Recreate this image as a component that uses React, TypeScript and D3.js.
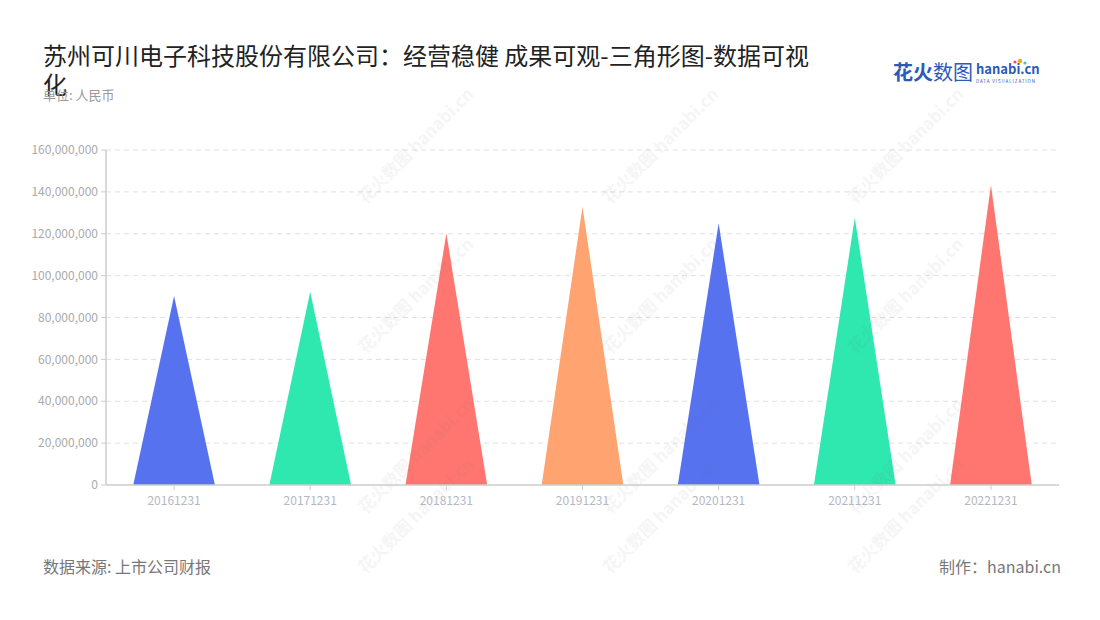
import React from "react";
import * as d3 from "d3";

const categories = ["20161231", "20171231", "20181231", "20191231", "20201231", "20211231", "20221231"];
const values = [90300000, 92300000, 120200000, 132900000, 125000000, 127700000, 143300000];
const colors = ["#5772ef", "#2ee8b0", "#ff7670", "#ffa370", "#5772ef", "#2ee8b0", "#ff7670"];
const yTicks = [0, 20000000, 40000000, 60000000, 80000000, 100000000, 120000000, 140000000, 160000000];
const titleLine1 = "苏州可川电子科技股份有限公司：经营稳健 成果可观-三角形图-数据可视";
const titleLine2 = "化";
const unitText = "单位: 人民币";
const sourceText = "数据来源: 上市公司财报";
const makerText = "制作：hanabi.cn";

const W = 1100, H = 620;
const left = 106, right = 1059, top = 150, bottom = 485;
const font = "'Noto Sans CJK SC', 'Noto Sans', sans-serif";

export default function App() {
  const x = d3.scaleBand<string>().domain(categories).range([left, right]).paddingInner(0).paddingOuter(0);
  const y = d3.scaleLinear().domain([0, 160000000]).range([bottom, top]);
  const fmt = d3.format(",");
  const bw = x.bandwidth() * 0.6;

  const wmPos: [number, number][] = [];
  for (const wx of [420, 665, 910]) {
    for (const wy of [150, 300, 460, 520]) wmPos.push([wx, wy]);
  }

  return (
    <svg width={W} height={H} style={{ position: "absolute", left: 0, top: 0, background: "#fff" }} fontFamily={font}>
      <rect width={W} height={H} fill="#fff" />
      {/* grid */}
      {yTicks.map((t) => (
        <g key={t}>
          {t > 0 && (
            <line x1={left} x2={right} y1={y(t)} y2={y(t)} stroke="#e0e0e0" strokeDasharray="5,4" />
          )}
          <line x1={left - 5} x2={left} y1={y(t)} y2={y(t)} stroke="#ccc" />
          <text x={left - 8} y={y(t)} dy="0.35em" textAnchor="end" fontSize={12} fill="#aaa">
            {fmt(t)}
          </text>
        </g>
      ))}
      {/* triangles */}
      {categories.map((c, i) => {
        const cx = (x(c) as number) + x.bandwidth() / 2;
        const p = d3.path();
        p.moveTo(cx - bw / 2, y(0));
        p.lineTo(cx, y(values[i]));
        p.lineTo(cx + bw / 2, y(0));
        p.closePath();
        return <path key={c} d={p.toString()} fill={colors[i]} />;
      })}
      {/* watermarks */}
      {wmPos.map(([wx, wy], i) => (
        <g key={i} transform={`translate(${wx},${wy}) rotate(-45)`} opacity={0.06}>
          <text x={0} y={0} textAnchor="middle" fontSize={17} fontWeight="bold" fill="#666">花火数图 hanabi.cn</text>
        </g>
      ))}
      {/* axes */}
      <line x1={left} x2={left} y1={top} y2={bottom} stroke="#ccc" strokeWidth={1.5} />
      <line x1={left} x2={right} y1={bottom} y2={bottom} stroke="#ccc" strokeWidth={1.5} />
      {categories.map((c) => {
        const cx = (x(c) as number) + x.bandwidth() / 2;
        return (
          <g key={c}>
            <line x1={cx} x2={cx} y1={bottom} y2={bottom + 5} stroke="#ccc" />
            <text x={cx} y={505} textAnchor="middle" fontSize={12} fill="#b4b8c4">{c}</text>
          </g>
        );
      })}
      {/* title */}
      <text x={43} y={65} fontSize={24} fill="#222">{titleLine1}</text>
      <text x={43} y={94} fontSize={24} fill="#222">{titleLine2}</text>
      <text x={43} y={100} fontSize={13} fill="#999">{unitText}</text>
      {/* logo */}
      <text x={893} y={80} fontSize={20} fontWeight="bold" fill="#2d59b8">花火</text>
      <text x={933} y={80} fontSize={20} fill="#2d59b8">数图</text>
      <text x={976} y={74} fontSize={13} fontWeight="bold" fill="#2d59b8">hanabi.cn</text>
      <text x={976} y={83} fontSize={4.5} fill="#2d59b8" letterSpacing={0.9}>DATA VISUALIZATION</text>
      <circle cx={1020} cy={61} r={2.2} fill="#f5a623" />
      <circle cx={1015} cy={62} r={1.6} fill="#e84a8a" />
      <circle cx={1025} cy={63} r={1.6} fill="#3cc" />
      {/* footer */}
      <text x={43} y={573} fontSize={16} fill="#777">{sourceText}</text>
      <text x={1061} y={573} textAnchor="end" fontSize={16} fill="#777">{makerText}</text>
    </svg>
  );
}
